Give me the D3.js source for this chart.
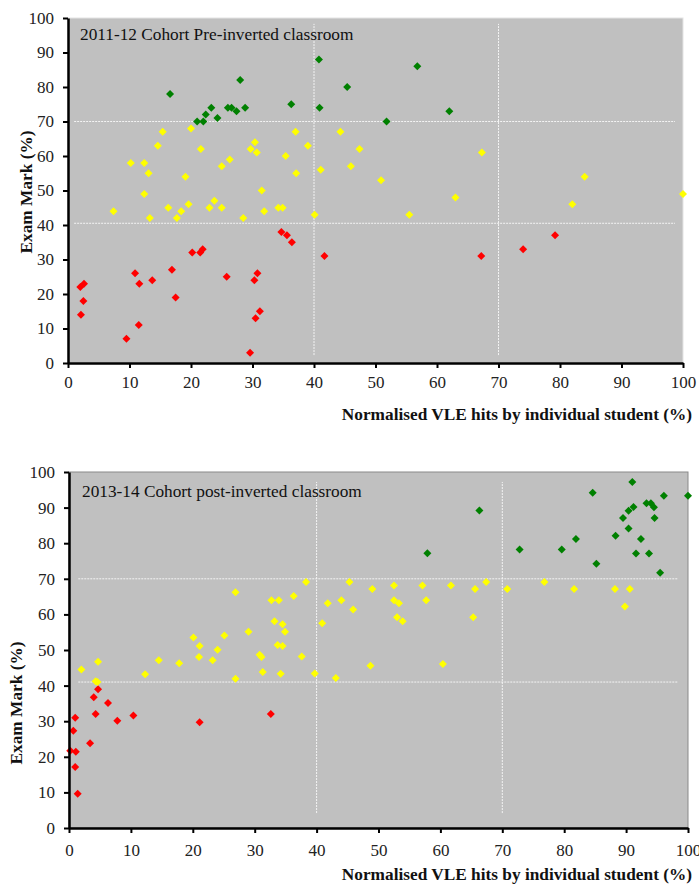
<!DOCTYPE html>
<html>
<head>
<meta charset="utf-8">
<script src="https://cdn.jsdelivr.net/npm/d3@7"></script>
<style>
  body { margin: 0; background: #fff; }
  text { font-family: "Liberation Serif", "Times New Roman", serif; }
</style>
</head>
<body>
<div id="chart"></div>
<script>
// ---- data: [VLE hits %, exam mark %] ----
const ticks = [0, 10, 20, 30, 40, 50, 60, 70, 80, 90, 100];

const topTitle = "2011-12 Cohort Pre-inverted classroom";
const topGreen = [[16.6,78],[21,70],[22,70],[22.4,72],[23.3,74],[24.3,71],[26,74],[26.6,74],[27.4,73],[28,82],
  [28.8,74],[36.3,75],[40.8,88],[40.9,74],[45.4,80],[51.8,70],[56.8,86],[62,73]];
const topYellow = [[7.4,44],[10.2,58],[12.4,58],[13.1,55],[12.4,49],[13.3,42],[14.6,63],[15.4,67],[16.3,45],
  [17.7,42],[18.4,44],[19.1,54],[19.6,46],[20,68],[21.6,62],[23,45],[23.8,47],[25,57],[25,45],[26.3,59],
  [28.5,42],[29.7,62],[30.4,64],[30.7,61],[31.5,50],[31.9,44],[34.2,45],[34.9,45],[35.4,60],[37,67],
  [37.1,55],[39,63],[40.1,43],[41.1,56],[44.3,67],[46,57],[47.4,62],[50.9,53],[55.5,43],[63,48],
  [67.3,61],[82,46],[84,54],[100,49]];
const topRed = [[2,22],[2.6,23],[2.5,18],[2.1,14],[9.5,7],[10.9,26],[11.6,23],[11.5,11],[13.7,24],[16.9,27],
  [17.5,19],[20.2,32],[21.5,32],[21.9,33],[25.8,25],[29.6,3],[30.3,24],[30.8,26],[30.5,13],[31.2,15],
  [34.7,38],[35.6,37],[36.4,35],[41.7,31],[67.2,31],[74,33],[79.2,37]];
// dashed guide lines [x1, y1, x2, y2]
const topGuides = [[1,70,98.7,70],[1,40.5,98.7,40.5],[40,2.3,40,98.3],[70,2.3,70,98.3]];

const bottomTitle = "2013-14 Cohort post-inverted classroom";
const bottomGreen = [[57.9,77.2],[66.3,89.2],[72.8,78.2],[79.6,78.2],[81.9,81.2],[84.6,94.2],[85.2,74.2],
  [88.3,82.1],[89.5,87.1],[90.4,84.1],[90.4,89.1],[91.2,90.2],[91,97.2],[91.6,77.1],[92.4,81.2],[93.3,91.2],
  [94,91.2],[94.5,90.1],[93.7,77.1],[94.6,87.1],[95.5,71.7],[96.1,93.3],[100,93.3]];
const bottomYellow = [[2,44.5],[4.7,46.7],[4.3,41.2],[4.6,41],[12.3,43.2],[14.5,47.1],[17.8,46.3],[20.1,53.5],
  [21.1,51.1],[21,48],[23.2,47.1],[24,50.1],[25.1,54.1],[26.9,66.2],[26.9,41.9],[29,55.1],[30.8,48.7],
  [31.1,48],[31.3,43.8],[32.7,64],[33.9,64],[33.2,58.1],[34.5,57.2],[34.9,55.1],[33.7,51.4],[34.5,51.1],
  [34.2,43.3],[36.3,65.2],[37.6,48.2],[38.3,69.1],[39.7,43.4],[40.9,57.5],[41.8,63.1],[43.1,42.1],[44,64],
  [45.3,69.1],[45.9,61.4],[48.7,45.6],[49,67.1],[52.5,68.1],[52.5,64],[53.3,63.1],[53,59.2],[53.9,58.1],
  [57.1,68.1],[57.7,64],[60.4,46.1],[61.7,68.1],[65.6,67.1],[65.3,59.2],[67.4,69.1],[70.8,67.1],[76.8,69.1],
  [81.6,67.1],[88.2,67.1],[89.8,62.2],[90.6,67.1]];
const bottomRed = [[0.2,21.7],[1.1,21.4],[1,31],[0.7,27.3],[1,17.1],[1.4,9.6],[3.4,23.8],[4,36.7],[4.3,32],
  [4.7,39],[6.3,35.1],[7.8,30.1],[10.4,31.6],[21.1,29.7],[32.6,32]];
const bottomGuides = [[1.5,70,98.4,70],[1.5,41,98.4,41],[40,4.2,40,97.2],[70,4.2,70,97.2]];

const xLabel = "Normalised VLE hits by individual student (%)";
const yLabel = "Exam Mark (%)";

const svg = d3.select("#chart").append("svg")
  .attr("width", 699)
  .attr("height", 885);

const diamond = d3.symbol().type(d3.symbolSquare).size(32);

function drawPanel(o) {
  const x = d3.scaleLinear().domain([0, 100]).range([o.left, o.right]);
  const y = d3.scaleLinear().domain([0, 100]).range([o.bottom, o.top]);
  const g = svg.append("g");

  // plot background
  g.append("rect")
    .attr("x", x(0)).attr("y", y(100))
    .attr("width", x(100) - x(0)).attr("height", y(0) - y(100))
    .attr("fill", "#c0c0c0")
    .attr("stroke", o.border).attr("stroke-width", 1);

  // dashed guide lines
  g.selectAll(".guide").data(o.guides).join("line")
    .attr("x1", d => x(d[0])).attr("y1", d => y(d[1]))
    .attr("x2", d => x(d[2])).attr("y2", d => y(d[3]))
    .attr("stroke", "#f4f4f4").attr("stroke-width", 1)
    .attr("stroke-dasharray", "2,1");

  // points
  const series = [[o.red, "#ff0000"], [o.yellow, "#ffff00"], [o.green, "#008000"]];
  series.forEach(([pts, col]) => {
    g.append("g").selectAll("path").data(pts).join("path")
      .attr("d", diamond)
      .attr("transform", d => `translate(${x(d[0])},${y(d[1])}) rotate(45)`)
      .attr("fill", col);
  });

  // title in plot
  g.append("text")
    .attr("x", o.titleX).attr("y", o.titleY)
    .attr("font-size", 17.3).attr("fill", "#111")
    .text(o.title);

  // axes
  const ya = g.append("g").attr("transform", `translate(${x(0)},0)`)
    .call(d3.axisLeft(y).tickValues(ticks).tickSize(5).tickPadding(9).tickSizeOuter(0));
  const xa = g.append("g").attr("transform", `translate(0,${y(0)})`)
    .call(d3.axisBottom(x).tickValues(ticks).tickSize(5).tickPadding(o.xPad).tickSizeOuter(0));
  [ya, xa].forEach(a => {
    a.select(".domain").attr("stroke", "#000").attr("stroke-width", 2.5);
    a.selectAll(".tick line").attr("stroke", "#000").attr("stroke-width", 2);
    a.selectAll(".tick text").attr("font-size", 17).attr("fill", "#222")
      .style("font-family", "Liberation Serif");
  });

  // axis titles
  g.append("text")
    .attr("x", o.xLabelX).attr("y", o.xLabelY)
    .attr("text-anchor", "end")
    .attr("font-size", 17.3).attr("font-weight", "bold").attr("fill", "#111")
    .text(xLabel);
  g.append("text")
    .attr("transform", `translate(${o.yLabelX},${o.yLabelY}) rotate(-90)`)
    .attr("text-anchor", "middle")
    .attr("font-size", 17.3).attr("font-weight", "bold").attr("fill", "#111")
    .text(yLabel);
}

drawPanel({
  left: 68, right: 683, top: 18, bottom: 363,
  border: "#e4e4e4",
  green: topGreen, yellow: topYellow, red: topRed, guides: topGuides,
  title: topTitle, titleX: 80, titleY: 40,
  xPad: 8, xLabelX: 692, xLabelY: 420,
  yLabelX: 32, yLabelY: 192
});

drawPanel({
  left: 69, right: 688, top: 472, bottom: 828,
  border: "#8a8a8a",
  green: bottomGreen, yellow: bottomYellow, red: bottomRed, guides: bottomGuides,
  title: bottomTitle, titleX: 82, titleY: 497,
  xPad: 11, xLabelX: 692, xLabelY: 880,
  yLabelX: 22, yLabelY: 703
});
</script>
</body>
</html>
